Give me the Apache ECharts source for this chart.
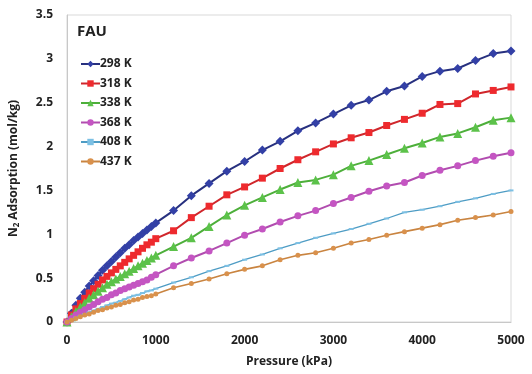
<!DOCTYPE html>
<html><head><meta charset="utf-8">
<script src="https://cdn.jsdelivr.net/npm/echarts@6/dist/echarts.min.js"></script>
<style>html,body{margin:0;padding:0;background:#fff}#c{width:532px;height:374px}</style>
</head><body><div id="c"></div>
<script>
const pressure = [0,50,100,150,200,250,300,350,400,450,500,550,600,650,700,750,800,850,900,950,
  1000,1200,1400,1600,1800,2000,2200,2400,2600,2800,3000,3200,3400,3600,3800,4000,4200,4400,4600,4800,5000];
const seriesNames = ['298 K','318 K','338 K','368 K','408 K','437 K'];
const k298 = [0,0.10,0.19,0.27,0.34,0.41,0.47,0.53,0.59,0.64,0.69,0.74,0.79,0.84,0.88,0.93,0.97,1.01,1.05,1.09,
  1.13,1.27,1.44,1.58,1.72,1.83,1.96,2.06,2.18,2.27,2.37,2.47,2.53,2.63,2.69,2.80,2.86,2.89,2.98,3.06,3.09];
const k318 = [0,0.08,0.15,0.21,0.27,0.33,0.38,0.43,0.48,0.52,0.56,0.60,0.64,0.68,0.72,0.76,0.80,0.84,0.88,0.91,
  0.95,1.04,1.19,1.32,1.45,1.54,1.64,1.75,1.85,1.94,2.03,2.10,2.16,2.24,2.31,2.38,2.48,2.49,2.60,2.64,2.68];
const k338 = [0,0.06,0.12,0.17,0.22,0.27,0.31,0.35,0.39,0.43,0.46,0.49,0.52,0.55,0.58,0.61,0.64,0.67,0.70,0.73,
  0.76,0.86,0.96,1.09,1.22,1.33,1.42,1.51,1.59,1.62,1.68,1.78,1.84,1.91,1.98,2.04,2.11,2.15,2.22,2.30,2.33];
const k368 = [0,0.04,0.08,0.11,0.14,0.17,0.20,0.23,0.26,0.28,0.31,0.33,0.36,0.38,0.40,0.42,0.44,0.46,0.48,0.51,
  0.54,0.64,0.73,0.81,0.90,0.99,1.06,1.14,1.21,1.27,1.35,1.42,1.49,1.55,1.59,1.67,1.73,1.78,1.84,1.89,1.93];
const k408 = [0,0.025,0.05,0.07,0.09,0.11,0.13,0.15,0.17,0.19,0.21,0.22,0.24,0.26,0.28,0.30,0.31,0.33,0.35,0.36,
  0.38,0.45,0.51,0.58,0.64,0.71,0.77,0.84,0.90,0.96,1.01,1.06,1.12,1.18,1.25,1.28,1.32,1.37,1.41,1.46,1.50];
const k437 = [0,0.02,0.04,0.06,0.08,0.09,0.11,0.13,0.14,0.16,0.17,0.19,0.20,0.22,0.23,0.25,0.26,0.28,0.29,0.30,
  0.32,0.39,0.44,0.49,0.55,0.60,0.64,0.71,0.76,0.79,0.84,0.90,0.94,0.99,1.03,1.07,1.11,1.16,1.19,1.22,1.26];
const xTicks = ['0','1000','2000','3000','4000','5000'];
const yTicks = ['0','0.5','1','1.5','2','2.5','3','3.5'];

const values = [k298,k318,k338,k368,k408,k437];
const lineColors = ['#27307F','#D0262B','#4DAF3A','#B14CAF','#4E9CC4','#C98440'];
const markColors = ['#3340A6','#EE2A2E','#5CC24A','#C455C2','#7CC0E4','#D9914C'];
const symbols = ['diamond','rect','triangle','circle','rect','circle'];
const sizes = [9,7,9,7,[5,2],5];
const widths = [2,2,2,2,1.3,1.6];
const font = '"Open Sans", "Noto Sans", sans-serif';

const chart = echarts.init(document.getElementById('c'));
chart.setOption({
  animation:false,
  title:{text:'FAU',left:72,top:19,textStyle:{fontFamily:font,fontSize:15,fontWeight:'bold',color:'#222'}},
  legend:{orient:'vertical',left:75,top:53,itemWidth:19,itemHeight:8,itemGap:7.5,
    data:seriesNames,
    textStyle:{fontFamily:font,fontSize:12,fontWeight:'bold',color:'#222',padding:[0,0,0,-5]}},
  grid:{left:67,right:21,top:15,bottom:52,show:true,borderColor:'#D9D9D9',borderWidth:1,backgroundColor:'#fff'},
  xAxis:{type:'value',min:0,max:5000,interval:1000,
    axisLine:{lineStyle:{color:'#C8C8C8',width:1}},axisTick:{show:false},splitLine:{show:false},
    axisLabel:{margin:13,fontFamily:font,fontSize:12,fontWeight:'bold',color:'#222',
      formatter:v=>xTicks[Math.round(v/1000)]},
    name:'Pressure (kPa)',nameLocation:'middle',nameGap:34,
    nameTextStyle:{fontFamily:font,fontSize:12,fontWeight:'bold',color:'#222'}},
  yAxis:{type:'value',min:0,max:3.5,interval:0.5,
    axisLine:{show:true,lineStyle:{color:'#C8C8C8',width:1}},axisTick:{show:false},splitLine:{show:false},
    axisLabel:{margin:14,fontFamily:font,fontSize:12,fontWeight:'bold',color:'#222',
      formatter:v=>yTicks[Math.round(v/0.5)]},
    name:'N{s|2} Adsorption (mol/kg)',nameLocation:'middle',nameGap:46,
    nameTextStyle:{fontFamily:font,fontSize:12,fontWeight:'bold',color:'#222',
      rich:{s:{fontFamily:font,fontSize:8,fontWeight:'bold',color:'#222',verticalAlign:'bottom',padding:[6,0,0,0]}}}},
  series: seriesNames.map((n,i)=>({
    name:n,type:'line',
    data:pressure.map((p,j)=>[p,values[i][j]]),
    symbol:symbols[i],symbolSize:sizes[i],showAllSymbol:true,
    lineStyle:{color:lineColors[i],width:widths[i]},
    itemStyle:{color:markColors[i],borderWidth:0},
    z:2+i
  }))
});
</script></body></html>
